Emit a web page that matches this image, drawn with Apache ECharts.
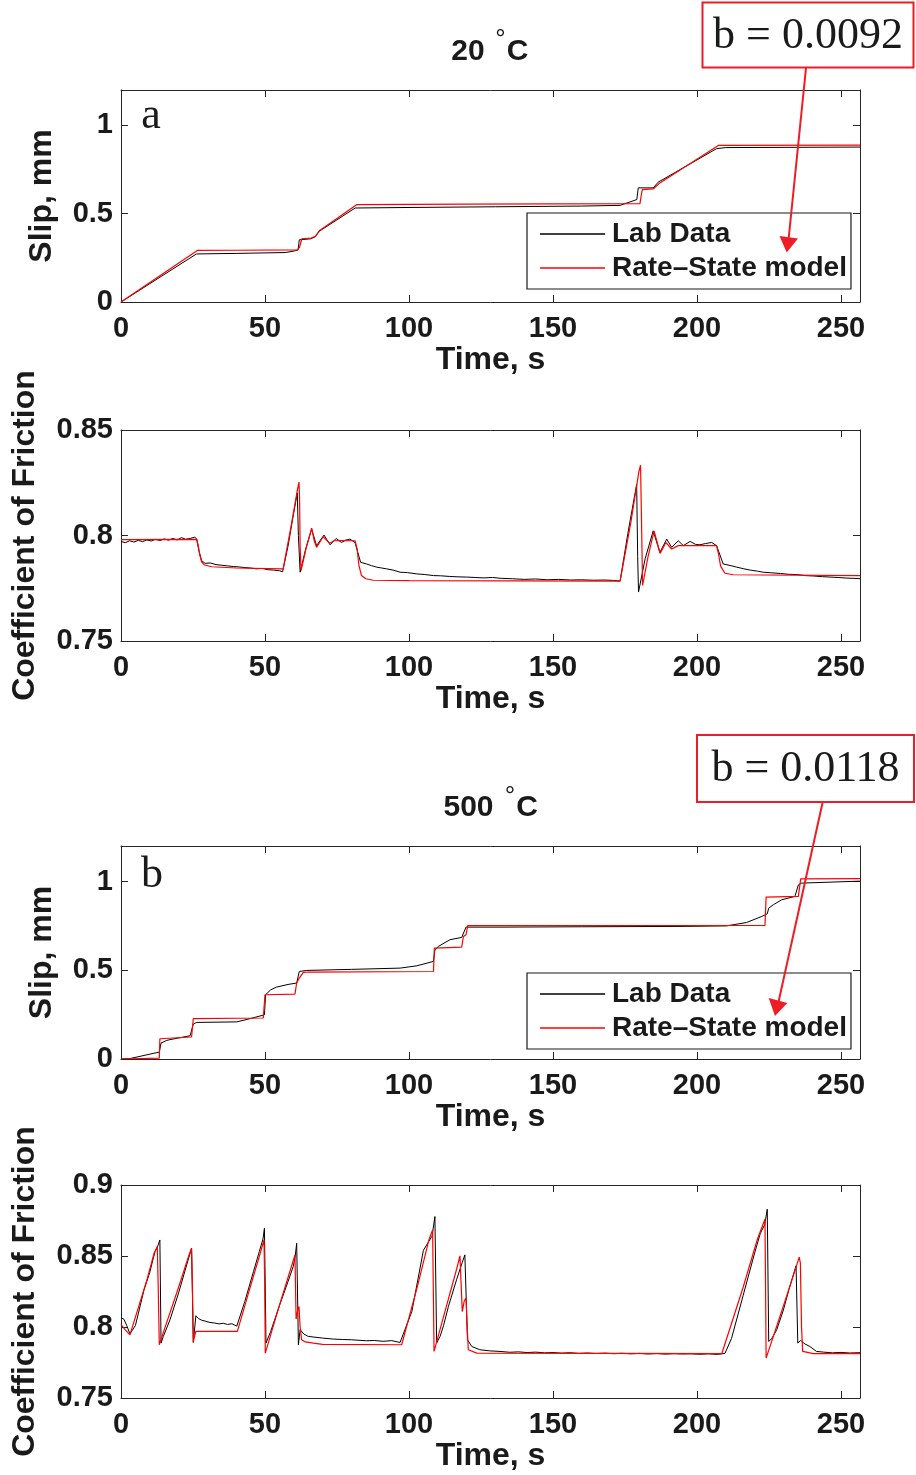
<!DOCTYPE html>
<html><head><meta charset="utf-8">
<script src="https://cdn.jsdelivr.net/npm/echarts@6/dist/echarts.min.js"></script>
<style>html,body{margin:0;padding:0;background:#fff}#c{width:916px;height:1475px}</style>
</head><body><div id="c"></div>
<script>
// ---------------- DATA ----------------
const xTicks = [0, 50, 100, 150, 200, 250];
const timeMax = 256.6;
const seriesNames = ['Lab Data', 'Rate–State model'];
const panelTitles = ['20', '500'];
const bValues = ['b = 0.0092', 'b = 0.0118'];

// Panel a: slip (mm) vs time (s)
const slipA_lab = [[0,0],[26.2,0.272],[40,0.275],[57,0.28],[60,0.288],[61.5,0.295],[61.9,0.352],[66,0.358],[67.5,0.37],[68.8,0.4],[81.3,0.532],[100,0.535],[130,0.539],[160,0.543],[173.3,0.547],[179.1,0.58],[179.6,0.646],[184.8,0.646],[186.5,0.678],[206.8,0.868],[210,0.874],[256.6,0.877]];
const slipA_model = [[0,0],[26.5,0.292],[40,0.293],[61.2,0.295],[62,0.31],[62.8,0.358],[66,0.362],[67.5,0.372],[69,0.405],[81.8,0.551],[120,0.554],[180.2,0.557],[180.6,0.6],[181,0.636],[184.8,0.64],[187.1,0.674],[207.4,0.886],[256.6,0.888]];

// Panel a: friction coefficient vs time (s)
const fricA_lab = [[0,0.7972],[1.5,0.7966],[3,0.7975],[4.5,0.7969],[6,0.7977],[7.5,0.7971],[9,0.7979],[10.5,0.7974],[12,0.7982],[13.5,0.7976],[15,0.7984],[16.5,0.7978],[18,0.7986],[19.5,0.7979],[21,0.799],[22.5,0.7982],[24,0.7986],[25.6,0.7992],[26.3,0.7984],[27,0.793],[28,0.7881],[29.2,0.7868],[31,0.787],[33,0.7862],[35,0.7859],[37,0.7856],[39,0.7853],[41,0.7851],[43,0.7848],[45,0.7846],[47,0.7842],[49,0.7844],[51,0.7838],[53,0.7836],[55,0.7833],[56.1,0.7828],[58,0.795],[60,0.811],[61.2,0.8202],[61.6,0.8],[62.2,0.7826],[64.2,0.794],[66.2,0.803],[67.9,0.7952],[70.5,0.8002],[72.6,0.7956],[74.7,0.7986],[76.6,0.7967],[78,0.7978],[79.5,0.7983],[81.25,0.7967],[83.2,0.7873],[85.3,0.7865],[87,0.7857],[88.8,0.785],[90.5,0.7846],[92.2,0.7842],[94.5,0.7836],[96.9,0.7826],[99.5,0.7824],[102.7,0.7818],[105.5,0.7815],[108.5,0.781],[111,0.7809],[114,0.7806],[117,0.7804],[120,0.7803],[123,0.7801],[126,0.7799],[129,0.7801],[132,0.7797],[136,0.7795],[140,0.7792],[144,0.7794],[148,0.779],[152,0.7792],[156,0.7789],[160,0.779],[164,0.7788],[168,0.7789],[171,0.7787],[173.3,0.7784],[176,0.801],[179.05,0.8242],[179.4,0.79],[179.7,0.7732],[182,0.789],[184.8,0.8022],[187.1,0.792],[189.5,0.7983],[191.2,0.7944],[193.5,0.7975],[195.25,0.7952],[197.6,0.7972],[199.5,0.7958],[201,0.7956],[203,0.7962],[205.1,0.7967],[206.8,0.7952],[209.1,0.7865],[211.5,0.7858],[213.8,0.785],[216,0.7843],[218.5,0.7836],[221,0.7831],[223,0.7826],[226,0.7823],[229,0.782],[232,0.7816],[234.6,0.7815],[237.5,0.781],[240.5,0.7808],[243.5,0.7805],[246.2,0.7803],[249,0.7801],[252,0.7798],[254.5,0.7797],[256.6,0.7795]];
const fricA_model = [[0,0.798],[26.2,0.7982],[26.8,0.7955],[27.4,0.7905],[28,0.7875],[29,0.786],[31.5,0.7852],[40,0.7846],[56.3,0.7842],[59,0.804],[61.3,0.822],[61.8,0.8253],[62,0.818],[62.2,0.795],[62.5,0.7834],[64.3,0.794],[66.2,0.8035],[67.1,0.7975],[67.9,0.7944],[70.2,0.7994],[72.5,0.7963],[74,0.7975],[76,0.7976],[81.3,0.7975],[82,0.7935],[82.6,0.786],[83.5,0.781],[85,0.7795],[87.6,0.7788],[100,0.7786],[173.3,0.7784],[177,0.806],[179.8,0.83],[180.4,0.8333],[180.7,0.81],[181.1,0.7763],[183,0.79],[185.1,0.8022],[187.2,0.7915],[189.2,0.7967],[191.2,0.7936],[193.5,0.7952],[206.8,0.7952],[207.5,0.791],[208.2,0.7855],[209.7,0.7821],[212.6,0.7814],[256.6,0.781]];

// Panel b: slip (mm) vs time (s)
const slipB_lab = [[0,0],[3,0.002],[8,0.02],[13.3,0.039],[13.9,0.09],[15.9,0.105],[17,0.109],[24,0.131],[24.5,0.137],[25.1,0.197],[26.3,0.206],[40.2,0.209],[45,0.228],[49.8,0.249],[50.2,0.362],[52,0.39],[54,0.405],[58,0.42],[61,0.428],[61.9,0.493],[64.5,0.499],[80,0.505],[96.9,0.512],[102.7,0.525],[108.5,0.55],[109,0.615],[110.2,0.634],[114.2,0.672],[118.3,0.685],[119.8,0.743],[131.6,0.743],[160,0.745],[194.1,0.747],[210.3,0.75],[217.2,0.769],[222.5,0.803],[224.4,0.818],[224.9,0.85],[226.5,0.869],[229.4,0.897],[234,0.916],[234.6,0.925],[235.2,0.981],[236.3,0.991],[256.6,1.002]];
const slipB_model = [[0,0],[13.3,0.005],[13.5,0.114],[24.5,0.124],[25.1,0.227],[49.4,0.231],[50,0.362],[60.4,0.366],[61,0.428],[61.9,0.456],[63.3,0.488],[65.6,0.49],[108.5,0.493],[108.8,0.625],[118.3,0.63],[118.9,0.69],[119.8,0.7],[120.4,0.751],[223.6,0.752],[224,0.912],[235.2,0.916],[236,1.015],[256.6,1.016]];

// Panel b: friction coefficient vs time (s)
const fricB_lab = [[0,0.8065],[1,0.8055],[2,0.801],[3.1,0.7952],[5,0.801],[8,0.8262],[10,0.8386],[11.8,0.8531],[12.6,0.856],[13.5,0.8613],[13.9,0.7887],[14.7,0.7934],[17,0.805],[20,0.824],[22,0.838],[24.5,0.8555],[25.1,0.7891],[26,0.8079],[27,0.8058],[28,0.8048],[29.5,0.804],[30.9,0.8032],[32.5,0.8028],[34,0.8022],[35.5,0.8026],[37,0.8018],[38.5,0.8023],[40.2,0.8006],[43,0.818],[46,0.839],[48,0.853],[49.3,0.862],[49.8,0.8695],[50.35,0.7887],[52,0.797],[55,0.815],[58,0.832],[59.8,0.8426],[60.5,0.85],[61,0.859],[61.6,0.7875],[62.2,0.7981],[63.5,0.795],[65,0.7934],[67,0.7929],[70,0.7922],[73.7,0.7915],[77,0.7912],[80,0.791],[83,0.7906],[85.3,0.7903],[88,0.7905],[91,0.7899],[94,0.7904],[96.9,0.7891],[97.5,0.789],[101,0.811],[105,0.854],[108,0.864],[109,0.8778],[109.6,0.7887],[110.8,0.7934],[112,0.801],[113.7,0.8145],[116.5,0.8332],[118.5,0.8455],[119.4,0.8508],[120.3,0.791],[121.8,0.7863],[124.6,0.784],[128,0.7832],[131.6,0.7828],[135,0.7822],[138,0.7825],[141,0.782],[144,0.7823],[147,0.7818],[150,0.782],[153,0.7816],[156,0.7819],[159,0.7814],[162,0.7817],[165,0.7813],[168,0.7816],[171,0.7812],[174,0.7815],[177,0.7811],[180,0.7814],[183,0.781],[186,0.7813],[189,0.7809],[192,0.7812],[195,0.781],[198,0.7811],[201,0.7808],[204,0.7811],[207,0.7807],[209.7,0.7814],[212,0.792],[216,0.822],[220,0.852],[222,0.866],[223.5,0.872],[224.4,0.8829],[224.9,0.7898],[226,0.792],[227.7,0.7981],[230,0.812],[232,0.827],[234.4,0.8431],[235,0.7887],[236,0.7905],[237.5,0.788],[239.2,0.7863],[241.5,0.7828],[244,0.7823],[247,0.7818],[250,0.7821],[253,0.7817],[256.6,0.7819]];
const fricB_model = [[0,0.8016],[1.5,0.798],[3.1,0.7945],[6,0.8135],[9,0.8332],[11.5,0.852],[12.6,0.8567],[12.9,0.83],[13.3,0.7875],[15,0.798],[20,0.828],[23.5,0.85],[24.5,0.8555],[24.8,0.83],[25.1,0.7898],[26,0.7969],[40.4,0.7969],[45,0.829],[48.5,0.853],[49.65,0.8613],[49.9,0.83],[50.1,0.7816],[55,0.8152],[59.5,0.8447],[60.4,0.8508],[60.8,0.8056],[61.3,0.811],[61.8,0.8145],[62.2,0.8],[62.7,0.791],[64,0.7895],[66.8,0.7887],[70,0.7878],[97.45,0.7875],[103,0.8292],[107,0.862],[108.2,0.8684],[108.4,0.835],[108.7,0.7828],[113,0.8147],[116.5,0.8405],[117.7,0.8501],[118.1,0.83],[118.5,0.8109],[119.2,0.8185],[119.8,0.8203],[120.2,0.8],[120.6,0.784],[123.5,0.7816],[208.6,0.7812],[216,0.8278],[221,0.862],[223.6,0.8759],[223.8,0.83],[224,0.7781],[229,0.8086],[233,0.8334],[235.5,0.8492],[235.9,0.845],[236.3,0.8],[236.7,0.7828],[240.4,0.7812],[256.6,0.7812]];

// ---------------- STYLE ----------------
const SANS = "'Liberation Sans', Arial, Helvetica, sans-serif";
const SERIF = "'Liberation Serif', 'Times New Roman', serif";
const TXT = '#1a1a1a';
const AX = '#262626';
const RED = '#ff0000';
const ANN = '#ee1c24';

const panels = [
  {top: 90,   height: 212, min: 0,    max: 1.2,  interval: 0.5,  yName: 'Slip, mm', nameGap: 63, lab: slipA_lab, model: slipA_model, hideMax: true},
  {top: 430,  height: 211, min: 0.75, max: 0.85, interval: 0.05, yName: 'Coefficient of Friction', nameGap: 80, lab: fricA_lab, model: fricA_model, hideMax: false},
  {top: 846,  height: 213, min: 0,    max: 1.2,  interval: 0.5,  yName: 'Slip, mm', nameGap: 63, lab: slipB_lab, model: slipB_model, hideMax: true},
  {top: 1185, height: 213, min: 0.75, max: 0.9,  interval: 0.05, yName: 'Coefficient of Friction', nameGap: 80, lab: fricB_lab, model: fricB_model, hideMax: false}
];

const boldText = {fontFamily: SANS, fontWeight: 'bold', fontSize: 29, color: TXT};
const nameText = {fontFamily: SANS, fontWeight: 'bold', fontSize: 32, color: TXT};
const axLine = {show: true, onZero: false, lineStyle: {color: AX, width: 1}};
const axTick = {show: true, inside: true, length: 7, lineStyle: {color: AX, width: 1}};

const grid = [], xAxis = [], yAxis = [], series = [];
panels.forEach((p, i) => {
  grid.push({left: 121, width: 739, top: p.top, height: p.height});
  xAxis.push({gridIndex: i, type: 'value', min: 0, max: timeMax, interval: 50, position: 'bottom',
    axisLine: axLine, axisTick: axTick, splitLine: {show: false},
    axisLabel: Object.assign({margin: 12, showMaxLabel: false}, boldText),
    name: 'Time, s', nameLocation: 'middle', nameGap: 42, nameTextStyle: nameText});
  xAxis.push({gridIndex: i, type: 'value', min: 0, max: timeMax, interval: 50, position: 'top',
    axisLine: axLine, axisTick: axTick, splitLine: {show: false}, axisLabel: {show: false}});
  yAxis.push({gridIndex: i, type: 'value', min: p.min, max: p.max, interval: p.interval, position: 'left',
    axisLine: axLine, axisTick: axTick, splitLine: {show: false},
    axisLabel: Object.assign({margin: 8, showMaxLabel: p.hideMax ? false : true}, boldText),
    name: p.yName, nameLocation: 'middle', nameGap: p.nameGap, nameTextStyle: nameText});
  yAxis.push({gridIndex: i, type: 'value', min: p.min, max: p.max, interval: p.interval, position: 'right',
    axisLine: axLine, axisTick: axTick, splitLine: {show: false}, axisLabel: {show: false}});
  series.push({name: seriesNames[0], type: 'line', xAxisIndex: i * 2, yAxisIndex: i * 2, data: p.lab,
    symbol: 'none', lineStyle: {color: '#000', width: 1}, itemStyle: {color: '#000'}, z: 2});
  series.push({name: seriesNames[1], type: 'line', xAxisIndex: i * 2, yAxisIndex: i * 2, data: p.model,
    symbol: 'none', lineStyle: {color: RED, width: 1.2}, itemStyle: {color: RED}, z: 3});
});

const legend = [213, 973].map(t => ({
  orient: 'vertical', left: 527, top: t, data: seriesNames, selectedMode: false,
  icon: 'rect', itemWidth: 65, itemHeight: 1.5, itemGap: 6, padding: [7, 4, 7, 13],
  borderColor: '#1a1a1a', borderWidth: 1.2, backgroundColor: '#fff',
  textStyle: {fontFamily: SANS, fontWeight: 'bold', fontSize: 28, color: TXT, padding: [0, 0, 0, 2], lineHeight: 28}
}));

// title "NN °C": number, degree sign and C as separate text pieces
function titleText(label, numX, degX, degY, cX, cy) {
  return [
    {type: 'text', x: numX, y: cy, z: 10, style: {text: label, align: 'center', verticalAlign: 'middle', font: 'bold 30px ' + SANS, fill: TXT}},
    {type: 'text', x: degX, y: degY, z: 10, style: {text: '°', align: 'center', verticalAlign: 'middle', font: '26px ' + SANS, fill: TXT}},
    {type: 'text', x: cX, y: cy, z: 10, style: {text: 'C', align: 'center', verticalAlign: 'middle', font: 'bold 30px ' + SANS, fill: TXT}}
  ];
}
function bBox(x, y, w, h, text, ty) {
  return [
    {type: 'rect', shape: {x: x, y: y, width: w, height: h}, style: {fill: '#fff', stroke: ANN, lineWidth: 2}, z: 10},
    {type: 'text', x: x + w / 2, y: ty, style: {text: text, align: 'center', verticalAlign: 'middle', font: '44px ' + SERIF, fill: TXT}, z: 11}
  ];
}
function arrow(x1, y1, x2, y2, tip, b1, b2) {
  return [
    {type: 'line', shape: {x1: x1, y1: y1, x2: x2, y2: y2}, style: {stroke: ANN, lineWidth: 2}, z: 12},
    {type: 'polygon', shape: {points: [tip, b1, b2]}, style: {fill: ANN}, z: 12}
  ];
}

const graphic = [
  ...titleText(panelTitles[0], 468, 500.5, 40, 517.5, 52),
  ...titleText(panelTitles[1], 468.5, 510, 797, 527, 808),
  {type: 'text', x: 151, y: 116, style: {text: 'a', align: 'center', verticalAlign: 'middle', font: '44px ' + SERIF, fill: TXT}, z: 10},
  {type: 'text', x: 152, y: 875, style: {text: 'b', align: 'center', verticalAlign: 'middle', font: '44px ' + SERIF, fill: TXT}, z: 10},
  ...bBox(702.5, 2.5, 211, 65, bValues[0], 36),
  ...bBox(697, 735, 217, 67, bValues[1], 769),
  ...arrow(806, 68, 788.5, 240, [786.7, 252.5], [779.5, 236], [798, 238.5]),
  ...arrow(822.7, 802, 778.5, 1002, [775, 1016], [768.7, 998], [787.3, 1003])
];

const chart = echarts.init(document.getElementById('c'), null, {renderer: 'canvas'});
chart.setOption({animation: false, backgroundColor: '#fff', grid, xAxis, yAxis, series, legend, graphic});
</script>
</body></html>
